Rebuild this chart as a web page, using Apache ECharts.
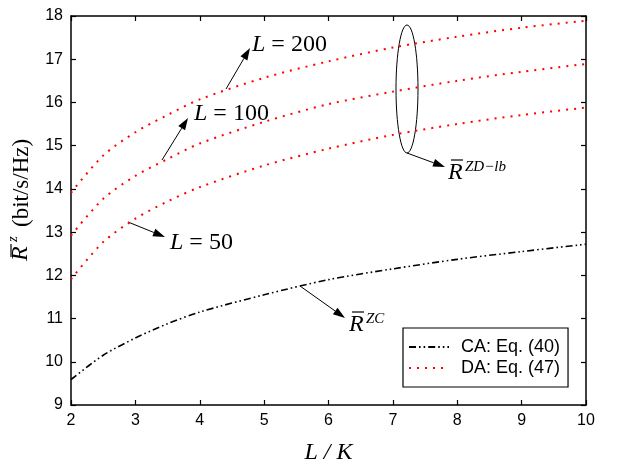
<!DOCTYPE html>
<html>
<head>
<meta charset="utf-8">
<script src="https://cdn.jsdelivr.net/npm/echarts@6/dist/echarts.min.js"></script>
<style>
  html, body { margin: 0; padding: 0; background: #fff; }
  #chart { width: 623px; height: 474px; }
</style>
</head>
<body>
<div id="chart"></div>
<script>
// L/K values
var ratioLK = [2, 2.5, 3, 3.5, 4, 5, 6, 7, 8, 9, 10];
// CA: Eq. (40)
var caRate = [9.59, 10.15, 10.55, 10.88, 11.15, 11.55, 11.9, 12.15, 12.37, 12.55, 12.72];
// DA: Eq. (47) for L = 50, 100, 200
var daL50 = [11.91, 12.77, 13.31, 13.71, 14.04, 14.54, 14.93, 15.25, 15.50, 15.71, 15.88];
var daL100 = [12.92, 13.77, 14.30, 14.69, 15.05, 15.55, 15.96, 16.25, 16.50, 16.71, 16.89];
var daL200 = [13.91, 14.77, 15.31, 15.71, 16.07, 16.57, 16.95, 17.27, 17.52, 17.73, 17.89];
var xTicks = [2, 3, 4, 5, 6, 7, 8, 9, 10];
var yTicks = [9, 10, 11, 12, 13, 14, 15, 16, 17, 18];

var SERIF = '"Liberation Serif", "Times New Roman", serif';
var SANS = '"Liberation Sans", Arial, Helvetica, sans-serif';

function pairs(ys) {
  return ratioLK.map(function (x, i) { return [x, ys[i]]; });
}

// small arrow with a filled head
function arrow(x1, y1, x2, y2) {
  var a = Math.atan2(y2 - y1, x2 - x1);
  var len = 12, w = 4;
  var bx = x2 - len * Math.cos(a), by = y2 - len * Math.sin(a);
  return [
    { type: 'line', shape: { x1: x1, y1: y1, x2: bx, y2: by }, style: { stroke: '#000', lineWidth: 1 } },
    {
      type: 'polygon',
      shape: { points: [[x2, y2], [bx + w * Math.sin(a), by - w * Math.cos(a)], [bx - w * Math.sin(a), by + w * Math.cos(a)]] },
      style: { fill: '#000' }
    }
  ];
}

function label(x, y, num) {
  return {
    type: 'text', x: x, y: y,
    style: {
      text: '{i|L}{n| = ' + num + '}',
      verticalAlign: 'middle',
      rich: {
        i: { fontStyle: 'italic', fontSize: 24, fontFamily: SERIF, fill: '#000' },
        n: { fontSize: 24, fontFamily: SERIF, fill: '#000' }
      }
    }
  };
}

// R with overbar and a superscript
function rbar(x, y, sup) {
  return [
    { type: 'text', x: x, y: y, style: { text: 'R', font: 'italic 24px ' + SERIF, fill: '#000', verticalAlign: 'middle' } },
    { type: 'line', shape: { x1: x + 3, y1: y - 13, x2: x + 15, y2: y - 13 }, style: { stroke: '#000', lineWidth: 1.2 } },
    { type: 'text', x: x + 17, y: y - 6, style: { text: sup, font: 'italic 15px ' + SERIF, fill: '#000', verticalAlign: 'middle' } }
  ];
}

var chart = echarts.init(document.getElementById('chart'), null, { renderer: 'canvas' });

var axisCommon = {
  type: 'value',
  axisLine: { show: true, onZero: false, lineStyle: { color: '#000', width: 1.5 } },
  axisTick: { show: true, inside: true, length: 5, lineStyle: { color: '#000', width: 1.2 } },
  splitLine: { show: false }
};

var graphics = []
  .concat(arrow(226, 89, 250, 48))
  .concat([label(252, 45, '200')])
  .concat(arrow(162, 160, 188, 118))
  .concat([label(194, 114, '100')])
  .concat(arrow(128, 222, 165, 237))
  .concat([label(170, 243, '50')])
  .concat(arrow(300, 286, 345, 318))
  .concat(rbar(349, 325, 'ZC'))
  .concat([{
    type: 'ellipse', shape: { cx: 407, cy: 89, rx: 11, ry: 64 },
    style: { fill: null, stroke: '#000', lineWidth: 1 }
  }])
  .concat(arrow(407, 153, 445, 167))
  .concat(rbar(448, 173, 'ZD\u2212lb'))
  .concat([{
    // y axis title, rotated
    type: 'group', x: 33, y: 261, rotation: Math.PI / 2,
    children: [
      { type: 'text', x: 0, y: 0, style: { text: 'R', font: 'italic 24px ' + SERIF, fill: '#000', verticalAlign: 'bottom' } },
      { type: 'line', shape: { x1: 4, y1: -22, x2: 17, y2: -22 }, style: { stroke: '#000', lineWidth: 1.2 } },
      { type: 'text', x: 19, y: -12, style: { text: 'z', font: 'italic 15px ' + SERIF, fill: '#000', verticalAlign: 'bottom' } },
      { type: 'text', x: 34, y: 0, style: { text: '(bit/s/Hz)', font: '23px ' + SERIF, fill: '#000', verticalAlign: 'bottom' } }
    ]
  }]);

var option = {
  animation: false,
  backgroundColor: '#fff',
  grid: { left: 71, right: 37, top: 16, bottom: 69 },
  legend: {
    orient: 'vertical',
    left: 403,
    top: 328,
    data: ['CA: Eq. (40)', 'DA: Eq. (47)'],
    itemWidth: 40,
    itemHeight: 14,
    itemGap: 3,
    padding: [10, 8, 10, 5],
    borderColor: '#000',
    borderWidth: 1.2,
    backgroundColor: '#fff',
    itemStyle: { opacity: 0 },
    textStyle: { color: '#000', fontSize: 18, fontFamily: SANS, lineHeight: 18, padding: [0, 0, 0, 7] }
  },
  xAxis: [
    Object.assign({}, axisCommon, {
      position: 'bottom', min: xTicks[0], max: xTicks[xTicks.length - 1], interval: 1,
      axisLabel: { color: '#000', fontSize: 16, fontFamily: SANS, margin: 8 },
      name: 'L / K',
      nameLocation: 'middle',
      nameGap: 36,
      nameTextStyle: { color: '#000', fontSize: 24, fontStyle: 'italic', fontFamily: SERIF }
    }),
    Object.assign({}, axisCommon, {
      position: 'top', min: xTicks[0], max: xTicks[xTicks.length - 1], interval: 1,
      axisLabel: { show: false }
    })
  ],
  yAxis: [
    Object.assign({}, axisCommon, {
      position: 'left', min: yTicks[0], max: yTicks[yTicks.length - 1], interval: 1,
      axisLabel: { color: '#000', fontSize: 16, fontFamily: SANS, margin: 8 }
    }),
    Object.assign({}, axisCommon, {
      position: 'right', min: yTicks[0], max: yTicks[yTicks.length - 1], interval: 1,
      axisLabel: { show: false }
    })
  ],
  series: [
    {
      name: 'CA: Eq. (40)', type: 'line', data: pairs(caRate),
      smooth: 0.3, showSymbol: false, symbol: 'none',
      itemStyle: { color: '#000' },
      lineStyle: { color: '#000', width: 1.6, type: [7, 3, 1.6, 3, 1.6, 3] }
    },
    {
      name: 'DA: Eq. (47)', type: 'line', data: pairs(daL50),
      smooth: 0.3, showSymbol: false, symbol: 'none',
      itemStyle: { color: '#ff0000' },
      lineStyle: { color: '#ff0000', width: 2, type: [2, 6] }
    },
    {
      name: 'DA: Eq. (47)', type: 'line', data: pairs(daL100),
      smooth: 0.3, showSymbol: false, symbol: 'none',
      itemStyle: { color: '#ff0000' },
      lineStyle: { color: '#ff0000', width: 2, type: [2, 6] }
    },
    {
      name: 'DA: Eq. (47)', type: 'line', data: pairs(daL200),
      smooth: 0.3, showSymbol: false, symbol: 'none',
      itemStyle: { color: '#ff0000' },
      lineStyle: { color: '#ff0000', width: 2, type: [2, 6] }
    }
  ],
  graphic: graphics
};

chart.setOption(option);
</script>
</body>
</html>
